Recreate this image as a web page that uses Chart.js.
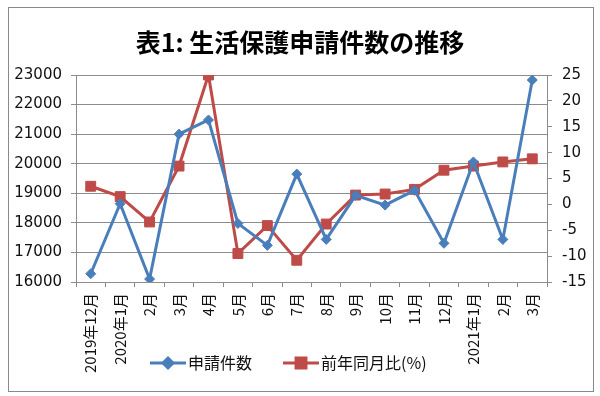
<!DOCTYPE html>
<html>
<head>
<meta charset="utf-8">
<script src="https://cdn.jsdelivr.net/npm/chart.js@4"></script>
<style>
    body { margin: 0; background: #fff; }
    #wrap { position: relative; width: 600px; height: 396px; }
    #frame { position: absolute; left: 8px; top: 7px; width: 584px; height: 383px; border: 1px solid #8a8a8a; pointer-events: none; }
</style>
</head>
<body>
<div id="wrap">
    <canvas id="applicationsChart" width="600" height="396"></canvas>
    <div id="frame"></div>
</div>
<script>
const months = ['2019年12月', '2020年1月', '2月', '3月', '4月', '5月', '6月', '7月', '8月', '9月', '10月', '11月', '12月', '2021年1月', '2月', '3月'];
const applications = [16280, 18650, 16100, 21000, 21480, 17980, 17240, 19650, 17440, 18930, 18600, 19100, 17310, 20060, 17440, 22830];
const yoyChange = [3.5, 1.5, -3.4, 7.4, 25.0, -9.5, -4.1, -10.8, -3.8, 1.8, 2.0, 2.9, 6.6, 7.4, 8.2, 8.8];
const seriesNames = ['申請件数', '前年同月比(%)'];

const BLUE = '#4a7ebb';
const RED = '#be4b48';
const GRID = '#8c8c8c';
const numFont = { family: "'DejaVu Sans', sans-serif", size: 15 };

// legend sits on top of the rotated month labels, like the Excel original
const overlayLegend = {
    id: 'overlayLegend',
    afterDraw(chart) {
        const ctx = chart.ctx;
        const y = 363;
        const items = [
            { x: 150, color: BLUE, style: 'rectRot', r: 5, label: seriesNames[0] },
            { x: 283, color: RED, style: 'rect', r: 7, label: seriesNames[1] }
        ];
        ctx.save();
        items.forEach(item => {
            ctx.strokeStyle = item.color;
            ctx.lineWidth = 3;
            ctx.beginPath();
            ctx.moveTo(item.x, y);
            ctx.lineTo(item.x + 36, y);
            ctx.stroke();
            ctx.fillStyle = item.color;
            Chart.helpers.drawPoint(ctx, { pointStyle: item.style, radius: item.r, borderWidth: 1 }, item.x + 18, y);
            ctx.fill();
            ctx.fillStyle = '#111';
            ctx.font = "16px 'Noto Sans CJK JP', sans-serif";
            ctx.textBaseline = 'middle';
            ctx.fillText(item.label, item.x + 38, y);
        });
        ctx.restore();
    }
};

new Chart(document.getElementById('applicationsChart'), {
    type: 'line',
    data: {
        labels: months,
        datasets: [{
            label: seriesNames[0],
            data: applications,
            yAxisID: 'y',
            borderColor: BLUE,
            backgroundColor: BLUE,
            borderWidth: 3,
            pointStyle: 'rectRot',
            pointRadius: 5,
            pointBorderWidth: 1,
            tension: 0
        }, {
            label: seriesNames[1],
            data: yoyChange,
            yAxisID: 'y1',
            borderColor: RED,
            backgroundColor: RED,
            borderWidth: 3,
            pointStyle: 'rect',
            pointRadius: 7,
            pointBorderWidth: 1,
            tension: 0
        }]
    },
    options: {
        responsive: false,
        devicePixelRatio: 1,
        animation: false,
        layout: { padding: 0 },
        plugins: {
            legend: { display: false },
            tooltip: { enabled: false },
            title: {
                display: true,
                text: '表1: 生活保護申請件数の推移',
                color: '#000',
                font: { family: "'Noto Sans CJK JP', sans-serif", size: 25, weight: 'bold', lineHeight: 1.2 },
                padding: { top: 27, bottom: 18 }
            }
        },
        scales: {
            x: {
                offset: true,
                grid: { offset: true, drawOnChartArea: false, tickLength: 5, color: GRID },
                border: { color: GRID },
                ticks: {
                    color: '#111',
                    minRotation: 90,
                    maxRotation: 90,
                    autoSkip: false,
                    padding: 6,
                    font: { family: "'Noto Sans CJK JP', sans-serif", size: 15 }
                },
                afterFit: (scale) => { scale.height = 114; }
            },
            y: {
                position: 'left',
                min: 16000,
                max: 23000,
                grid: { color: GRID, tickLength: 5 },
                border: { color: GRID },
                ticks: { stepSize: 1000, color: '#111', padding: 9, font: numFont, callback: (v) => String(v) },
                afterFit: (scale) => { scale.width = 76; }
            },
            y1: {
                position: 'right',
                min: -15,
                max: 25,
                grid: { drawOnChartArea: false, color: GRID, tickLength: 5 },
                border: { color: GRID },
                ticks: { stepSize: 5, color: '#111', padding: 10, font: numFont, callback: (v) => String(v) },
                afterFit: (scale) => { scale.width = 53; }
            }
        }
    },
    plugins: [overlayLegend]
});
</script>
</body>
</html>
